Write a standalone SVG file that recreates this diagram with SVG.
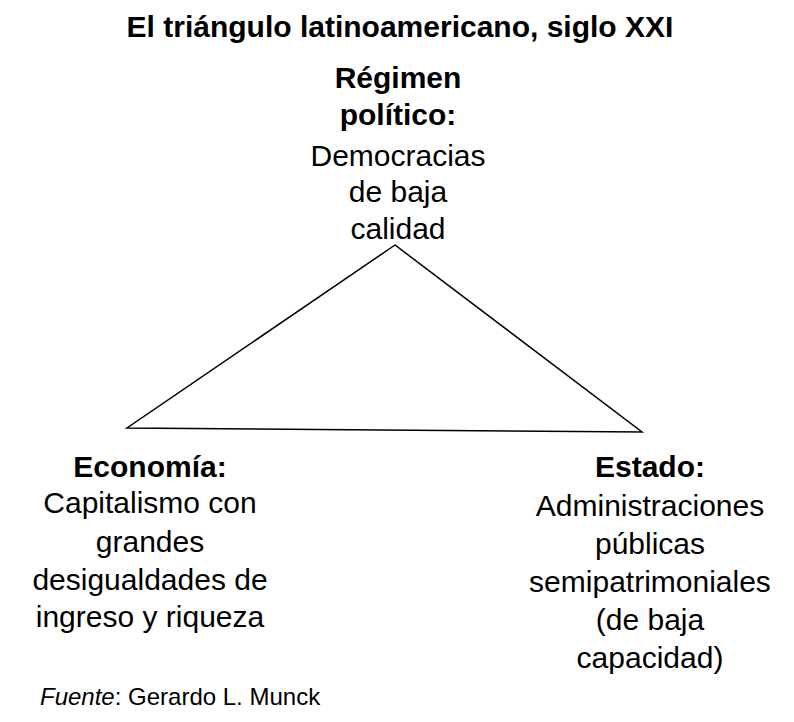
<svg xmlns="http://www.w3.org/2000/svg" width="794" height="722" viewBox="0 0 794 722">
<style>
text{font-family:"Liberation Sans",Arial,sans-serif;font-size:30px;fill:#000;text-anchor:middle}
.b{font-weight:bold}
</style>
<rect width="794" height="722" fill="#fff"/>
<text class="b" x="400" y="37">El triángulo latinoamericano, siglo XXI</text>
<g id="connectors"><polygon points="395,245 127,428 642,432" fill="none" stroke="#000" stroke-width="1.5"/></g>
<g id="regimen">
<text class="b" x="398" y="88">Régimen</text>
<text class="b" x="398" y="125">político:</text>
<text x="398" y="166">Democracias</text>
<text x="398" y="202">de baja</text>
<text x="398" y="239">calidad</text>
</g>
<g id="economia">
<text class="b" x="150" y="477">Economía:</text>
<text x="150" y="513">Capitalismo con</text>
<text x="150" y="552">grandes</text>
<text x="150" y="590">desigualdades de</text>
<text x="150" y="627">ingreso y riqueza</text>
</g>
<g id="estado">
<text class="b" x="650" y="477">Estado:</text>
<text x="650" y="516">Administraciones</text>
<text x="650" y="554">públicas</text>
<text x="650" y="592">semipatrimoniales</text>
<text x="650" y="630">(de baja</text>
<text x="650" y="668">capacidad)</text>
</g>
<text x="40" y="705" style="text-anchor:start;font-size:24px"><tspan font-style="italic">Fuente</tspan>: Gerardo L. Munck</text>
</svg>
